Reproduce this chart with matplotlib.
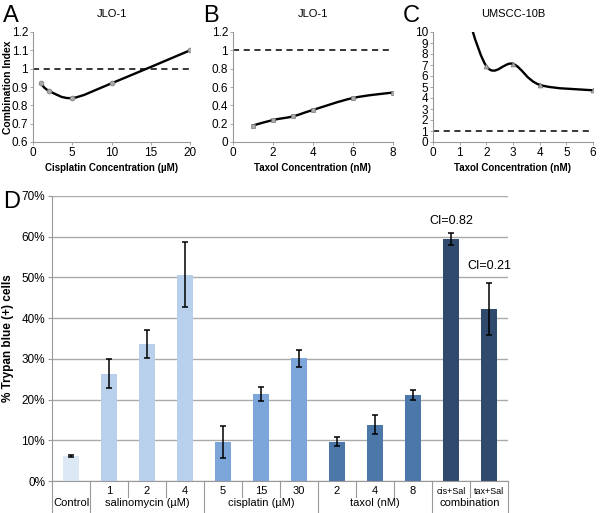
import matplotlib
matplotlib.use('Agg')
import matplotlib.pyplot as plt
from matplotlib.path import Path
from matplotlib.patches import PathPatch
import numpy as np

plt.rcParams['font.family'] = ['Liberation Sans', 'DejaVu Sans']

# --- data: combination index curves ---
a_x = [1, 2, 5, 10, 20]
a_ci = [0.92, 0.88, 0.84, 0.92, 1.10]
b_x = [1, 2, 3, 4, 6, 8]
b_ci = [0.18, 0.24, 0.28, 0.35, 0.48, 0.54]
c_x = [1, 2, 3, 4, 6]
c_ci = [14.0, 6.9, 7.1, 5.2, 4.7]

# --- data: trypan blue bars ---
bar_labels = ['', '1', '2', '4', '5', '15', '30', '2', '4', '8', 'cis+Sal', 'tax+Sal']
bar_vals = [6.1, 26.4, 33.7, 50.7, 9.6, 21.4, 30.1, 9.7, 13.8, 21.1, 59.5, 42.2]
bar_err = [0.3, 3.5, 3.4, 8.0, 4.0, 1.7, 2.0, 1.0, 2.3, 1.3, 1.5, 6.4]
groups = ['Control', 'salinomycin (µM)', 'cisplatin (µM)', 'taxol (nM)', 'combination']
group_sizes = [1, 3, 3, 3, 2]
group_colors = ['#dce8f6', '#b9d0ed', '#7ca6d9', '#4b77a9', '#304a6d']
ci_text = {10: 'CI=0.82', 11: 'CI=0.21'}
ci_text_y = {10: 63.9, 11: 52.8}


def smooth_path(xs, ys):
    # Excel-like smoothed line: Catmull-Rom segments drawn as cubic Beziers
    pts = list(zip(xs, ys))
    verts = [pts[0]]
    codes = [Path.MOVETO]
    n = len(pts)
    for i in range(n - 1):
        p0 = pts[i - 1] if i > 0 else pts[i]
        p1 = pts[i]
        p2 = pts[i + 1]
        p3 = pts[i + 2] if i + 2 < n else pts[i + 1]
        c1 = (p1[0] + (p2[0] - p0[0]) / 6, p1[1] + (p2[1] - p0[1]) / 6)
        c2 = (p2[0] - (p3[0] - p1[0]) / 6, p2[1] - (p3[1] - p1[1]) / 6)
        verts += [c1, c2, p2]
        codes += [Path.CURVE4] * 3
    return Path(verts, codes)


fig = plt.figure(figsize=(6.0, 5.13), dpi=100)

W, H = 600.0, 513.0


def px_axes(l, t, r, b):
    return fig.add_axes([l / W, 1 - b / H, (r - l) / W, (b - t) / H])


small_panels = [
    ('A', 'JLO-1', a_x, a_ci, 'o', (33, 190), (0, 20), np.arange(0, 21, 5), (0.6, 1.2),
     np.round(np.arange(0.6, 1.21, 0.1), 1), 'Cisplatin Concentration (µM)', 'Combination Index'),
    ('B', 'JLO-1', b_x, b_ci, 's', (233, 393), (0, 8), np.arange(0, 9, 2), (0, 1.2),
     np.round(np.arange(0, 1.21, 0.2), 1), 'Taxol Concentration (nM)', None),
    ('C', 'UMSCC-10B', c_x, c_ci, '^', (433, 593), (0, 6), np.arange(0, 7, 1), (0, 10),
     np.arange(0, 11, 1), 'Taxol Concentration (nM)', None),
]

for letter, title, xs, ys, mk, (l, r), xlim, xt, ylim, yt, xlab, ylab in small_panels:
    ax = px_axes(l, 32, r, 142)
    ax.set_xlim(*xlim)
    ax.set_ylim(*ylim)
    ax.set_xticks(xt)
    ax.set_yticks(yt)
    ax.set_yticklabels(['%g' % v for v in yt])
    for s in ['top', 'right']:
        ax.spines[s].set_visible(False)
    for s in ['left', 'bottom']:
        ax.spines[s].set_color('#999999')
        ax.spines[s].set_linewidth(0.8)
    ax.tick_params(length=2, width=0.6, color='#999999', labelsize=8.5, pad=1.5)
    ax.axhline(1, color='black', lw=1.1, ls=(0, (4, 3)))
    ax.plot(xs, ys, mk, color='#aaaaaa', ms=3.5, mec='#777777', mew=0.5, clip_on=True)
    ax.add_patch(PathPatch(smooth_path(xs, ys), fc='none', ec='black', lw=1.7))
    ax.set_title(title, fontsize=8, pad=11)
    ax.set_xlabel(xlab, fontsize=7, fontweight='bold', labelpad=3)
    if ylab:
        ax.set_ylabel(ylab, fontsize=7.5, fontweight='bold')
        ax.yaxis.set_label_coords((13 - l) / (r - l), 0.5)
    fig.text((l - 30) / W, 1 - 16 / H, letter, fontsize=17, va='center', ha='left')

# --- panel D ---
ax = px_axes(52, 196, 508, 481)
colors = []
for c, n in zip(group_colors, group_sizes):
    colors += [c] * n
pos = np.arange(len(bar_vals))
ax.bar(pos, bar_vals, width=0.42, color=colors, zorder=2)
ax.errorbar(pos, bar_vals, yerr=bar_err, fmt='none', ecolor='black',
            elinewidth=1.1, capsize=2.5, capthick=1.1, zorder=3)
ax.set_xlim(-0.5, len(bar_vals) - 0.5)
ax.set_ylim(0, 70)
ax.set_yticks(np.arange(0, 71, 10))
ax.set_yticklabels(['%d%%' % v for v in range(0, 71, 10)])
ax.yaxis.grid(True, color='#aaaaaa', lw=1, zorder=0)
ax.set_axisbelow(True)
ax.set_xticks([])
for s in ['top', 'right']:
    ax.spines[s].set_visible(False)
ax.spines['left'].set_color('#999999')
ax.spines['bottom'].set_color('#999999')
ax.tick_params(axis='y', length=3, color='#999999', labelsize=8.5, pad=2)
ax.set_ylabel('% Trypan blue (+) cells', fontsize=8.5, fontweight='bold')
ax.yaxis.set_label_coords((14 - 52) / 456, 0.5)

for i, t in ci_text.items():
    ax.text(pos[i], ci_text_y[i], t, ha='center', va='center', fontsize=9)

trans = ax.get_xaxis_transform()
row1, row2, tick_end, bottom = -10 / 285, -22 / 285, -16 / 285, -32 / 285
for i, lab in enumerate(bar_labels):
    fs = 6.5 if '+' in lab else 8
    ax.text(pos[i], row1, lab, transform=trans, ha='center', va='center', fontsize=fs)

line_kw = dict(transform=trans, color='#999999', lw=0.8, clip_on=False)
ax.plot([-0.5, -0.5], [0, bottom], **line_kw)
ax.plot([len(bar_vals) - 0.5] * 2, [0, bottom], **line_kw)
start = 0
for g, n in zip(groups, group_sizes):
    end = start + n
    ax.text((start + end - 1) / 2, row2, g, transform=trans, ha='center', va='center', fontsize=8)
    for k in range(start + 1, end):
        ax.plot([k - 0.5] * 2, [0, tick_end], **line_kw)
    if end < len(bar_vals):
        ax.plot([end - 0.5] * 2, [0, bottom], **line_kw)
    start = end

fig.text(3 / W, 1 - 202 / H, 'D', fontsize=17, va='center', ha='left')

fig.savefig('out.png', dpi=100)
